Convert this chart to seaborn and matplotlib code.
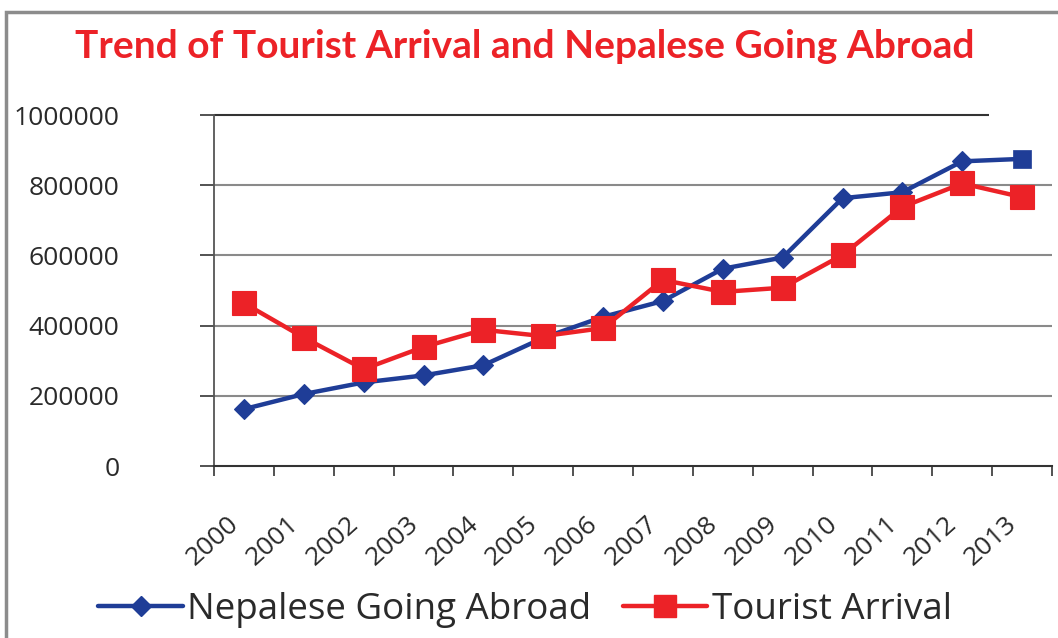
import matplotlib
matplotlib.use("Agg")
import matplotlib.pyplot as plt
import matplotlib.ticker as mticker
from matplotlib.patches import Rectangle
from matplotlib.lines import Line2D
import seaborn as sns
import pandas as pd

# Yearly figures
years = [2000, 2001, 2002, 2003, 2004, 2005, 2006, 2007, 2008, 2009, 2010, 2011, 2012, 2013]
going_abroad = [162000, 205000, 238000, 258000, 287000, 365000, 425000, 470000,
                562000, 594000, 763000, 780000, 868000, 875000]
tourist_arrival = [464000, 366000, 276000, 339000, 388000, 370000, 393000, 530000,
                   496000, 508000, 601000, 738000, 805000, 766000]
series_names = ["Nepalese Going Abroad", "Tourist Arrival"]
y_ticks = [0, 200000, 400000, 600000, 800000, 1000000]
title_text = "Trend of Tourist Arrival and Nepalese Going Abroad"

BLUE = "#1f3d97"
RED = "#ec2227"
GRID = "#8a8a8a"
TEXT = "#2a2a2a"

sns.set_theme(style="white")
plt.rcParams["font.family"] = ["Open Sans", "DejaVu Sans"]

df = pd.DataFrame({
    "pos": list(range(len(years))),
    "abroad": going_abroad,
    "arrival": tourist_arrival,
})

fig = plt.figure(figsize=(10.58, 6.38), dpi=100)
fig.patch.set_facecolor("white")
ax = fig.add_axes([214 / 1058, 1 - 466 / 638, (1052 - 214) / 1058, (466 - 115) / 638])

# Series: outbound travellers (blue diamonds), arrivals (red squares) on top
sns.lineplot(data=df, x="pos", y="abroad", ax=ax, color=BLUE, linewidth=3.2,
             marker="D", markersize=10, markeredgecolor=BLUE, markeredgewidth=0.8,
             markevery=list(range(len(years) - 1)), zorder=3, legend=False)
sns.scatterplot(x=df["pos"].iloc[-1:], y=df["abroad"].iloc[-1:], ax=ax, marker="s",
                s=150, color=BLUE, edgecolor=BLUE, linewidth=0.5, zorder=3, legend=False)
sns.lineplot(data=df, x="pos", y="arrival", ax=ax, color=RED, linewidth=3.2,
             marker="s", markersize=17, markeredgecolor=RED, markeredgewidth=0.8,
             zorder=4, legend=False)

# Axes limits and ticks
ax.set_xlim(-0.5, len(years) - 0.5)
ax.set_ylim(0, 1000000)
ax.set_xlabel("")
ax.set_ylabel("")

ax.set_xticks([i - 0.5 for i in range(len(years) + 1)])
ax.xaxis.set_major_formatter(mticker.NullFormatter())
ax.set_xticks(list(range(len(years))), minor=True)
ax.set_xticklabels([str(y) for y in years], minor=True)
ax.tick_params(axis="x", which="major", direction="out", length=7, width=1.3,
               color="#444444", bottom=True)
ax.tick_params(axis="x", which="minor", length=0, pad=33, labelsize=19,
               labelcolor=TEXT, bottom=True)
for lbl in ax.get_xticklabels(minor=True):
    lbl.set_rotation(42)
    lbl.set_ha("right")
    lbl.set_va("top")
    lbl.set_rotation_mode("default")

ax.set_yticks(y_ticks)
ax.yaxis.set_major_formatter(mticker.FuncFormatter(lambda v, p: f"{int(v)}"))
ax.tick_params(axis="y", direction="out", length=10, width=1.3, color="#444444",
               pad=58, labelsize=19, labelcolor=TEXT, left=True)

# Gridlines for the inner values; top line stops short
for v in y_ticks[1:-1]:
    ax.axhline(v, color=GRID, linewidth=1.5, zorder=1)
ax.hlines(y_ticks[-1], -0.5, len(years) - 1.55, color="#333333", linewidth=1.5,
          zorder=1, clip_on=False)

for side in ["top", "right"]:
    ax.spines[side].set_visible(False)
ax.spines["left"].set_color("#555555")
ax.spines["left"].set_linewidth(1.3)
ax.spines["bottom"].set_color("#333333")
ax.spines["bottom"].set_linewidth(1.5)

# Title
fig.text(525 / 1058, 1 - 47 / 638, title_text, ha="center", va="center",
         color=RED, fontsize=28, fontweight="bold", family=["Lato", "DejaVu Sans"])

# Legend
handles = [
    Line2D([], [], color=BLUE, linewidth=3.2, marker="D", markersize=10,
           markeredgecolor=BLUE),
    Line2D([], [], color=RED, linewidth=3.2, marker="s", markersize=16,
           markeredgecolor=RED),
]
fig.legend(handles, series_names, loc="center", bbox_to_anchor=(525 / 1058, 1 - 610 / 638),
           ncol=2, frameon=False, fontsize=26.5, handlelength=2.3, handletextpad=0.12,
           columnspacing=0.85, labelcolor=TEXT)

# Outer frame (only top and left edges fall inside the canvas)
fig.patches.append(Rectangle((6 / 1058, -0.2), 1.5, 1.2 - 12 / 638,
                             transform=fig.transFigure, fill=False,
                             edgecolor="#8c8c8c", linewidth=2.5, figure=fig))

fig.savefig("out.png", dpi=100)
